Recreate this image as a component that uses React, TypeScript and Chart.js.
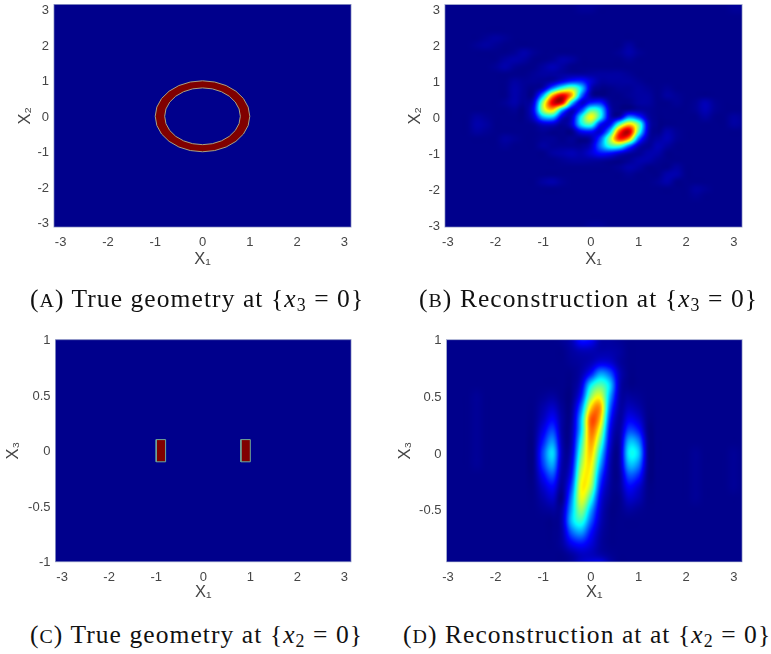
import React, { useEffect, useRef } from "react";
import { Chart, registerables } from "chart.js";

Chart.register(...registerables);

// ---------- data ----------
const ticksX = [-3, -2, -1, 0, 1, 2, 3];
const ticksX1X2 = [-3, -2, -1, 0, 1, 2, 3];
const ticksX3C = [-1, -0.5, 0, 0.5, 1];
const ticksX3D = [-0.5, 0, 0.5, 1];

const ringOuterX = [1, 0.966, 0.866, 0.707, 0.5, 0.259, 0, -0.259, -0.5, -0.707, -0.866, -0.966, -1, -0.966, -0.866, -0.707, -0.5, -0.259, 0, 0.259, 0.5, 0.707, 0.866, 0.966, 1];
const ringOuterY = [0, 0.259, 0.5, 0.707, 0.866, 0.966, 1, 0.966, 0.866, 0.707, 0.5, 0.259, 0, -0.259, -0.5, -0.707, -0.866, -0.966, -1, -0.966, -0.866, -0.707, -0.5, -0.259, 0];
const ringInnerX = [0.8, 0.773, 0.693, 0.566, 0.4, 0.207, 0, -0.207, -0.4, -0.566, -0.693, -0.773, -0.8, -0.773, -0.693, -0.566, -0.4, -0.207, 0, 0.207, 0.4, 0.566, 0.693, 0.773, 0.8];
const ringInnerY = [0, 0.207, 0.4, 0.566, 0.693, 0.773, 0.8, 0.773, 0.693, 0.566, 0.4, 0.207, 0, -0.207, -0.4, -0.566, -0.693, -0.773, -0.8, -0.773, -0.693, -0.566, -0.4, -0.207, 0];

const leftBarX = [-1, -0.8, -0.8, -1, -1];
const rightBarX = [0.8, 1, 1, 0.8, 0.8];
const barY = [-0.1, -0.1, 0.1, 0.1, -0.1];

const gridX = [-3.2, -3, -2.8, -2.6, -2.4, -2.2, -2, -1.8, -1.6, -1.4, -1.2, -1, -0.8, -0.6, -0.4, -0.2, 0, 0.2, 0.4, 0.6, 0.8, 1, 1.2, 1.4, 1.6, 1.8, 2, 2.2, 2.4, 2.6, 2.8, 3, 3.2];
const gridYB = [3.2, 3, 2.8, 2.6, 2.4, 2.2, 2, 1.8, 1.6, 1.4, 1.2, 1, 0.8, 0.6, 0.4, 0.2, 0, -0.2, -0.4, -0.6, -0.8, -1, -1.2, -1.4, -1.6, -1.8, -2, -2.2, -2.4, -2.6, -2.8, -3, -3.2];
const gridYD = [1, 0.9, 0.8, 0.7, 0.6, 0.5, 0.4, 0.3, 0.2, 0.1, 0, -0.1, -0.2, -0.3, -0.4, -0.5, -0.6, -0.7, -0.8, -0.9, -1];

const reconB = [
  [1,1,1,1,1,1,1,1,1,1,1,1,1,1,1,2,2,2,1,1,1,1,1,1,1,1,1,1,1,1,1,2,2],
  [1,1,1,1,1,1,1,1,1,1,1,1,1,1,1,2,2,1,1,1,1,1,1,1,1,1,1,1,1,1,1,2,2],
  [1,1,1,1,1,1,1,1,1,1,1,1,1,1,1,1,1,1,1,1,1,1,1,1,1,1,1,1,1,1,1,1,1],
  [1,1,1,1,1,1,1,1,1,1,1,1,1,1,1,1,1,1,1,1,1,1,1,1,1,1,1,1,1,1,1,1,1],
  [1,1,1,1,1,1,1,1,1,1,1,1,1,1,1,1,1,1,1,1,1,1,1,1,1,1,1,1,1,1,1,1,1],
  [1,1,1,1,1,2,3,2,1,1,1,1,1,1,1,1,1,1,1,1,1,1,1,1,1,1,1,1,1,1,1,1,1],
  [1,1,1,1,2,3,2,1,1,1,1,1,1,1,1,1,1,1,1,1,3,1,1,1,1,1,1,1,1,1,1,1,1],
  [1,1,1,1,1,1,1,1,2,4,2,1,1,1,1,1,1,1,1,2,4,2,1,1,1,1,1,1,1,1,1,1,1],
  [1,1,1,1,1,1,1,3,4,3,1,1,2,4,3,1,1,1,1,1,2,1,1,1,1,1,1,1,1,1,1,1,1],
  [1,1,1,1,1,1,2,4,2,1,1,3,5,3,1,1,1,1,1,1,1,1,1,1,1,1,1,1,1,1,1,1,1],
  [1,1,1,1,1,1,1,1,1,1,2,3,3,3,3,3,3,3,3,3,2,1,1,1,1,1,1,1,1,1,1,1,1],
  [1,1,1,1,1,1,1,1,3,2,2,2,4,10,16,16,8,3,3,3,3,2,1,1,1,1,1,1,1,1,1,1,1],
  [1,1,1,1,1,1,1,1,4,2,1,6,26,44,52,34,6,1,1,2,2,3,2,1,2,1,1,1,1,1,1,1,1],
  [1,1,1,1,1,1,1,1,4,2,3,30,72,90,70,24,4,1,1,1,2,3,3,1,3,2,1,1,1,1,1,1,1],
  [1,1,1,1,1,1,1,2,4,2,9,54,90,88,34,8,15,16,3,1,1,3,3,1,1,2,1,2,5,2,1,1,1],
  [2,1,1,1,1,1,1,1,2,1,12,54,66,30,7,18,44,36,6,1,2,3,2,1,1,1,1,2,5,2,1,1,1],
  [2,1,1,1,3,2,1,1,1,1,8,30,32,8,7,38,62,38,7,6,26,18,4,1,1,1,1,1,3,1,1,3,2],
  [1,1,1,1,4,3,1,1,1,1,2,7,7,2,8,36,44,14,12,45,66,48,8,1,1,1,1,1,1,1,1,3,2],
  [1,1,1,1,3,2,1,1,1,1,1,2,1,1,1,12,14,8,32,80,93,46,7,1,4,2,1,1,1,1,1,1,1],
  [1,1,1,1,1,1,1,3,2,1,1,2,2,1,2,1,4,20,52,84,72,24,4,3,5,2,1,1,1,1,1,1,1],
  [1,1,1,1,1,1,1,2,1,1,1,3,2,2,2,2,6,24,42,44,24,6,2,5,3,1,1,1,1,1,1,1,1],
  [1,1,1,1,1,1,1,1,1,1,1,1,3,4,5,4,8,14,14,9,4,2,4,4,1,1,1,1,1,1,1,1,1],
  [1,1,1,1,1,1,1,1,1,1,1,1,1,2,3,3,3,3,2,1,2,4,4,2,1,1,1,1,1,1,1,1,1],
  [1,1,1,1,1,1,1,1,1,1,1,1,1,1,1,1,1,1,1,2,4,3,1,1,1,3,1,1,1,1,1,1,1],
  [1,1,1,1,1,1,1,1,1,1,1,1,1,1,1,1,1,1,1,1,2,1,1,1,4,4,1,1,1,1,1,1,1],
  [1,1,1,1,1,1,1,1,1,1,1,3,4,2,1,1,1,1,1,1,1,1,1,2,4,1,1,1,1,1,1,1,1],
  [1,1,1,1,1,1,1,1,1,1,1,1,1,1,1,1,1,1,1,1,1,1,1,1,1,1,1,3,2,1,1,1,1],
  [1,1,1,1,1,1,1,1,1,1,1,1,1,1,1,1,1,1,1,1,1,1,1,1,1,1,1,2,1,1,1,1,1],
  [1,1,1,1,1,1,1,1,1,1,1,1,1,1,1,1,1,1,1,1,1,1,1,1,1,1,1,1,1,1,1,1,1],
  [1,1,1,1,1,1,1,1,1,1,1,1,1,1,1,1,1,1,1,1,1,1,1,1,1,1,1,1,1,1,1,1,1],
  [1,1,1,1,1,1,1,1,1,1,1,1,1,1,1,1,1,1,1,1,1,1,1,1,1,1,1,1,1,1,1,1,1],
  [1,1,1,1,1,1,1,1,1,1,1,1,1,1,1,1,2,2,1,1,1,1,1,1,1,1,1,1,1,1,1,1,1],
  [1,1,1,1,1,1,1,1,1,1,1,1,1,1,1,2,2,2,1,1,1,1,1,1,1,1,1,1,1,1,1,1,1],
];

const reconD = [
  [1,1,1,1,1,1,1,1,1,1,1,1,1,2,5,14,12,4,3,2,1,1,1,1,1,1,1,1,1,1,1,1,1],
  [1,1,1,1,1,1,1,1,1,1,1,1,1,1,3,5,5,4,4,3,1,1,1,1,1,1,1,1,1,1,1,1,1],
  [1,1,1,1,1,1,1,1,1,1,1,1,1,1,2,3,5,9,8,3,1,1,1,1,1,1,1,1,1,1,1,1,1],
  [1,1,1,1,1,1,1,1,1,1,1,1,1,1,1,4,14,28,22,6,1,1,1,1,1,1,1,1,1,1,1,1,1],
  [1,1,1,1,1,1,1,1,1,1,1,1,1,1,1,8,36,46,34,6,1,1,1,1,1,1,1,1,1,1,1,1,1],
  [1,1,1,1,2,1,1,1,1,1,1,2,3,1,1,14,50,60,30,5,3,2,1,1,1,1,1,1,1,1,1,1,1],
  [1,1,1,1,2,1,1,1,1,1,1,4,7,2,2,24,66,72,24,4,6,4,1,1,1,1,1,1,1,1,1,1,1],
  [1,1,1,1,2,1,1,1,1,1,1,6,12,3,3,32,78,68,18,3,11,8,1,1,1,1,1,1,1,1,1,1,1],
  [1,1,1,1,2,1,1,1,1,1,1,10,19,3,4,34,76,58,13,3,19,15,1,1,1,1,1,1,1,1,1,1,1],
  [1,1,1,1,2,1,1,1,1,1,1,15,27,4,5,40,72,48,10,3,30,26,2,1,1,1,1,1,1,1,1,1,1],
  [1,1,1,1,2,1,1,1,1,1,1,20,34,5,7,46,68,38,7,3,36,33,2,1,1,1,1,2,1,1,1,2,1],
  [1,1,1,1,2,1,1,1,1,1,1,18,29,4,10,52,64,30,5,3,30,26,2,1,1,1,1,2,1,1,1,2,1],
  [1,1,1,1,1,1,1,1,1,1,1,12,20,3,14,58,60,22,4,2,20,16,1,1,1,1,1,2,1,1,1,2,1],
  [1,1,1,1,1,1,1,1,1,1,1,7,12,2,20,62,54,16,3,2,12,8,1,1,1,1,1,2,1,1,1,2,1],
  [1,1,1,1,1,1,1,1,1,1,1,4,7,1,26,60,42,11,2,1,7,5,1,1,1,1,1,2,1,1,1,1,1],
  [1,1,1,1,1,1,1,1,1,1,1,2,3,4,30,52,30,8,1,1,3,2,1,1,1,1,1,1,1,1,1,1,1],
  [1,1,1,1,1,1,1,1,1,1,1,1,1,5,32,42,22,6,1,1,1,1,1,1,1,1,1,1,1,1,1,1,1],
  [1,1,1,1,1,1,1,1,1,1,1,1,1,4,22,28,14,4,1,1,1,1,1,1,1,1,1,1,1,1,1,1,1],
  [1,1,1,1,1,1,1,1,1,1,1,1,1,3,11,14,9,3,1,1,1,1,1,1,1,1,1,1,1,1,1,1,1],
  [1,1,1,1,1,1,1,1,1,1,1,1,1,1,3,6,6,4,2,1,1,1,1,1,1,1,1,1,1,1,1,1,1],
  [1,1,1,1,1,1,1,1,1,1,1,1,1,1,3,8,11,13,5,1,1,1,1,1,1,1,1,1,1,1,1,1,1],
];

// ---------- rendering helpers ----------
const clamp01 = (v: number) => Math.max(0, Math.min(1, v));
const jet = (v: number): [number, number, number] => [
  clamp01(Math.min(4 * v - 1.5, -4 * v + 4.5)) * 255,
  clamp01(Math.min(4 * v - 0.5, -4 * v + 3.5)) * 255,
  clamp01(Math.min(4 * v + 0.51, -4 * v + 2.5)) * 255,
];
const cr = (a: number, b: number, c: number, d: number, t: number) =>
  0.5 * (2 * b + (c - a) * t + (2 * a - 5 * b + 4 * c - d) * t * t + (3 * b - a - 3 * c + d) * t * t * t);

const shading = {
  id: "shading",
  beforeDatasetsDraw(chart: any, _a: any, opts: any) {
    const { ctx, chartArea: ca, scales } = chart;
    const { left, top, width, height } = ca;
    const rows: number[][] | null = opts.rows;
    ctx.save();
    if (!rows) {
      ctx.fillStyle = "rgb(0,0,140)";
      ctx.fillRect(left, top, width, height);
    } else {
      const xs: number[] = opts.xs;
      const ys: number[] = opts.ys;
      const w = Math.round(width), h = Math.round(height);
      const off = document.createElement("canvas");
      off.width = w; off.height = h;
      const octx = off.getContext("2d")!;
      const img = octx.createImageData(w, h);
      const nc = xs.length, nr = ys.length;
      const at = (r: number, c: number) =>
        rows[Math.max(0, Math.min(nr - 1, r))][Math.max(0, Math.min(nc - 1, c))] ?? 1;
      for (let py = 0; py < h; py++) {
        const fr = (scales.y.getValueForPixel(top + py + 0.5) - ys[0]) / (ys[1] - ys[0]);
        const r0 = Math.floor(fr), tr = fr - r0;
        for (let px = 0; px < w; px++) {
          const fc = (scales.x.getValueForPixel(left + px + 0.5) - xs[0]) / (xs[1] - xs[0]);
          const c0 = Math.floor(fc), tc = fc - c0;
          const col = [-1, 0, 1, 2].map((dr) =>
            cr(at(r0 + dr, c0 - 1), at(r0 + dr, c0), at(r0 + dr, c0 + 1), at(r0 + dr, c0 + 2), tc));
          const val = clamp01(cr(col[0], col[1], col[2], col[3], tr) / 100);
          const [R, G, B] = jet(val);
          const i = (py * w + px) * 4;
          img.data[i] = R; img.data[i + 1] = G; img.data[i + 2] = B; img.data[i + 3] = 255;
        }
      }
      octx.putImageData(img, 0, 0);
      ctx.drawImage(off, left, top, width, height);
    }
    ctx.restore();
  },
  afterDatasetsDraw(chart: any) {
    const { ctx, chartArea: ca } = chart;
    ctx.save();
    ctx.strokeStyle = "rgba(120,130,185,0.7)";
    ctx.lineWidth = 1;
    ctx.strokeRect(ca.left, ca.top, ca.width, ca.height);
    ctx.restore();
  },
};

const zip = (xs: number[], ys: number[]) => xs.map((x, i) => ({ x, y: ys[i] }));
const shape = (xs: number[], ys: number[], fillColor: string, edge: string) => ({
  data: zip(xs, ys),
  showLine: true,
  fill: "shape",
  backgroundColor: fillColor,
  borderColor: edge,
  borderWidth: 1,
  pointRadius: 0,
  tension: 0,
});

const TICK = { family: "'Liberation Sans', Arial, sans-serif", size: 13 };
const TITLE = { family: "'Liberation Sans', Arial, sans-serif", size: 16.5 };

type PanelCfg = {
  left: number; top: number; w: number; h: number;
  plot: [number, number, number, number]; // l, t, r, b in canvas px
  xr: [number, number]; yr: [number, number];
  yTicks: number[]; yLabel: string;
  yTitleAt: number; xTitleAt: number;
  datasets: any[]; rows: number[][] | null; ys: number[] | null;
};

const NAVY = "rgb(0,0,140)";
const DARKRED = "rgb(128,0,0)";
const panels: PanelCfg[] = [
  {
    left: 0, top: 0, w: 385, h: 285, plot: [54, 4.5, 351, 227],
    xr: [-3.14, 3.14], yr: [-3.12, 3.15], yTicks: ticksX1X2, yLabel: "X₂", yTitleAt: 25, xTitleAt: 259,
    datasets: [
      shape(ringInnerX, ringInnerY, NAVY, "#a8a080"),
      shape(ringOuterX, ringOuterY, DARKRED, "#a8a080"),
    ],
    rows: null, ys: null,
  },
  {
    left: 385, top: 0, w: 386, h: 285, plot: [60, 4.5, 357, 227],
    xr: [-3.06, 3.17], yr: [-3.05, 3.14], yTicks: ticksX1X2, yLabel: "X₂", yTitleAt: 30, xTitleAt: 259,
    datasets: [{ data: gridYB.flatMap((y) => gridX.map((x) => ({ x, y }))), pointRadius: 0 }],
    rows: reconB, ys: gridYB,
  },
  {
    left: 0, top: 325, w: 385, h: 295, plot: [55.5, 14.7, 351, 236.7],
    xr: [-3.14, 3.14], yr: [-1, 1], yTicks: ticksX3C, yLabel: "X₃", yTitleAt: 13, xTitleAt: 267,
    datasets: [
      shape(leftBarX, barY, DARKRED, "#6fa89a"),
      shape(rightBarX, barY, DARKRED, "#6fa89a"),
    ],
    rows: null, ys: null,
  },
  {
    left: 385, top: 325, w: 386, h: 295, plot: [61.5, 14.7, 357, 236.7],
    xr: [-3.03, 3.17], yr: [-0.96, 1], yTicks: ticksX3D, yLabel: "X₃", yTitleAt: 20, xTitleAt: 267,
    datasets: [{ data: gridYD.flatMap((y) => gridX.map((x) => ({ x, y }))), pointRadius: 0 }],
    rows: reconD, ys: gridYD,
  },
];

function Panel({ cfg }: { cfg: PanelCfg }) {
  const ref = useRef<HTMLCanvasElement>(null);
  useEffect(() => {
    const [pl, pt, pr, pb] = cfg.plot;
    const lh = TITLE.size * 1.2;
    const noPad = (s: any) => { s.paddingTop = 0; s.paddingBottom = 0; s.paddingLeft = 0; s.paddingRight = 0; };
    const chart = new Chart(ref.current!, {
      type: "scatter",
      data: { datasets: cfg.datasets },
      plugins: [shading],
      options: {
        animation: false,
        responsive: false,
        events: [],
        layout: { autoPadding: false, padding: { left: 0, top: pt, right: cfg.w - pr, bottom: 0 } },
        plugins: {
          legend: { display: false },
          tooltip: { enabled: false },
          shading: { rows: cfg.rows, xs: gridX, ys: cfg.ys },
        } as any,
        scales: {
          x: {
            type: "linear", min: cfg.xr[0], max: cfg.xr[1],
            grid: { display: false, drawTicks: false },
            border: { display: false },
            afterBuildTicks: (s: any) => { s.ticks = ticksX.map((value) => ({ value })); },
            afterFit: (s: any) => { s.height = cfg.h - pb; noPad(s); },
            ticks: {
              color: "#454545", font: TICK, padding: 7.5, autoSkip: false, maxRotation: 0, minRotation: 0,
              callback: (v: any) => String(v),
            },
            title: {
              display: true, text: "X₁", color: "#454545", font: TITLE,
              padding: { top: 0, bottom: cfg.h - cfg.xTitleAt - lh / 2 },
            },
          },
          y: {
            type: "linear", min: cfg.yr[0], max: cfg.yr[1],
            grid: { display: false, drawTicks: false },
            border: { display: false },
            afterBuildTicks: (s: any) => { s.ticks = cfg.yTicks.map((value) => ({ value })); },
            afterFit: (s: any) => { s.width = pl; noPad(s); },
            ticks: {
              color: "#454545", font: TICK, padding: 5, autoSkip: false, labelOffset: 1,
              callback: (v: any) => String(v),
            },
            title: {
              display: true, text: cfg.yLabel, color: "#454545", font: TITLE,
              padding: { top: cfg.yTitleAt - lh / 2, bottom: 0 },
            },
          },
        },
      } as any,
    });
    return () => chart.destroy();
  }, [cfg]);
  return (
    <canvas
      ref={ref}
      width={cfg.w}
      height={cfg.h}
      style={{ position: "absolute", left: cfg.left, top: cfg.top, width: cfg.w, height: cfg.h }}
    />
  );
}

const capStyle: React.CSSProperties = {
  position: "absolute",
  fontFamily: "'Liberation Serif', serif",
  fontSize: 25.5,
  letterSpacing: 1.08,
  lineHeight: "30px",
  whiteSpace: "nowrap",
  color: "#111",
};
const Sc = ({ c }: { c: string }) => <span style={{ fontSize: "0.78em", letterSpacing: 1 }}>{c}</span>;
const Sub = ({ c }: { c: string }) => (
  <span style={{ fontSize: "0.7em", position: "relative", top: "0.22em" }}>{c}</span>
);
const Caption = ({ x, y, tag, text, n }: { x: number; y: number; tag: string; text: string; n: string }) => (
  <div style={{ ...capStyle, left: x, top: y }}>
    (<Sc c={tag} />) {text} {"{"}
    <i>x</i>
    <Sub c={n} /> = 0{"}"}
  </div>
);

export default function App() {
  return (
    <div style={{ position: "absolute", left: 0, top: 0, width: 771, height: 654, background: "#fff", overflow: "hidden" }}>
      {panels.map((p, i) => (
        <Panel key={i} cfg={p} />
      ))}
      <Caption x={30} y={284} tag="A" text="True geometry at" n="3" />
      <Caption x={419} y={284} tag="B" text="Reconstruction at" n="3" />
      <Caption x={30} y={620} tag="C" text="True geometry at" n="2" />
      <Caption x={403} y={620} tag="D" text="Reconstruction at at" n="2" />
    </div>
  );
}
